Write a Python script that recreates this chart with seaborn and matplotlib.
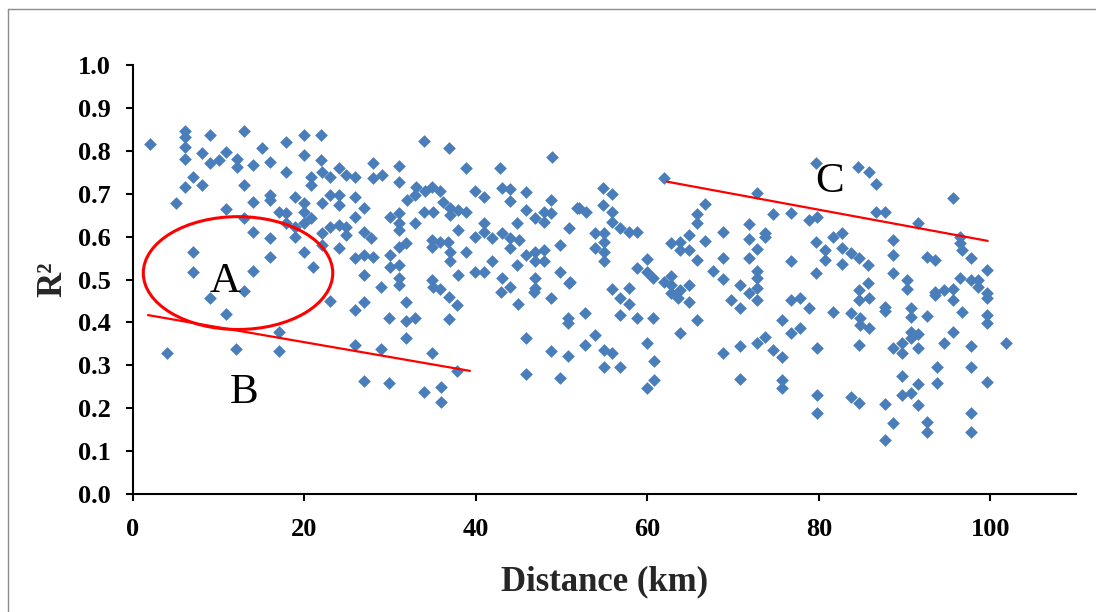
import matplotlib
matplotlib.use("Agg")
import matplotlib.pyplot as plt
from matplotlib.patches import Ellipse
import seaborn as sns
import pandas as pd

# Distance (km) and R^2 values
distance_km = [
    2.0, 6.1, 6.1, 6.1, 6.1, 9.0, 8.0, 9.0, 10.0, 10.9, 12.1, 12.1, 13.0, 15.0, 14.0, 16.0, 17.9, 19.9, 21.9, 19.9,
    21.9, 17.9, 7.0, 6.1, 8.0, 13.0, 5.0, 10.9, 14.0, 16.0, 16.0, 17.0, 17.9, 18.9, 19.9, 19.9, 20.8, 20.8, 22.0, 23.0,
    24.0, 24.9, 25.9, 22.0, 23.0, 24.0, 24.0, 25.9, 20.8, 19.9, 17.9, 18.9, 23.0, 24.0, 24.9, 24.9, 22.0, 18.9, 13.0, 14.0,
    16.0, 22.0, 24.0, 25.9, 19.9, 21.0, 16.0, 7.0, 7.0, 14.0, 13.0,
    9.0, 10.9, 17.0, 4.0, 12.0, 17.0, 23.0, 25.9, 25.9,
    33.9, 36.9, 48.9, 38.9, 42.8, 28.0, 31.0, 28.0, 29.0, 31.0, 33.0, 34.1, 34.9, 35.8, 32.0, 32.9, 34.0, 35.0, 36.2, 37.0,
    37.0, 37.9, 38.9, 39.9, 40.9, 43.0, 44.0, 44.0, 45.9, 48.8, 51.8, 45.9, 46.9, 47.9, 48.8, 47.9, 26.9, 25.9, 30.0, 31.0,
    31.0, 31.0, 32.9, 37.9, 40.9, 40.9, 39.9, 41.9, 44.8, 43.0, 44.0, 45.0, 44.0, 50.9, 49.8, 26.9, 27.8, 26.9, 28.0, 30.0,
    31.0, 31.9, 31.0, 30.0, 34.9, 35.8, 36.8, 34.9, 37.0, 37.0, 38.9, 41.9, 44.8, 45.9, 46.9, 47.9, 46.9, 47.9, 49.8, 50.9,
    26.9, 28.9, 31.0, 31.0, 34.9, 35.8, 37.9, 39.9, 40.9, 43.0, 44.0, 46.9, 46.9,
    35.0, 26.9, 31.9, 36.9, 37.8, 29.9, 31.9, 32.9, 36.9, 31.9, 28.9, 34.9, 37.8, 26.9, 29.9, 33.9, 35.9, 35.9, 42.9, 44.9,
    46.8, 48.8, 50.8, 50.8, 45.9, 48.8, 50.8, 45.9, 49.8,
    61.9, 72.8, 54.8, 55.9, 66.7, 65.8, 65.8, 74.7, 76.7, 52.0, 52.9, 54.8, 55.9, 55.9, 53.9, 54.9, 56.8, 57.8, 58.8, 54.9,
    53.9, 54.9, 54.9, 62.8, 63.8, 64.8, 63.8, 64.8, 66.7, 68.8, 71.8, 71.8, 73.7, 73.7, 72.8, 71.8, 76.7, 68.8, 65.8, 60.0,
    58.8, 60.0, 60.7, 61.9, 62.8, 62.8, 63.8, 64.8, 67.7, 68.8, 70.8, 72.8, 72.8, 72.8, 55.9, 57.8, 51.0,
    56.8, 57.8, 56.8, 52.7, 58.8, 60.7, 62.7, 63.6, 64.8, 65.8, 63.8, 53.9, 52.7, 54.9, 55.9, 54.9, 56.8, 59.9, 60.8, 60.8,
    59.9, 69.8, 70.8, 71.8, 72.8, 75.7, 76.7, 76.7, 73.7, 72.8, 70.8, 68.8, 74.7, 75.7, 70.8, 75.7, 75.7,
    79.7, 84.6, 85.8, 86.7, 95.6, 86.7, 87.7, 91.6, 78.8, 79.8, 96.5, 96.5, 96.7, 97.7, 99.6, 79.7, 81.7, 82.7, 80.7, 80.7,
    82.7, 83.7, 84.7, 85.7, 82.7, 88.7, 88.7, 88.7, 92.6, 93.6, 79.7, 85.7, 84.7, 90.3, 90.3, 96.5, 97.7, 98.6, 98.6, 93.6,
    94.6, 95.7, 99.6,
    77.8, 78.8, 81.7, 83.7, 84.7, 85.8, 84.8, 84.8, 85.8, 87.7, 87.7, 90.7, 90.7, 92.6, 93.6, 95.7, 96.7, 99.6, 99.6, 99.6,
    77.8, 79.8, 84.7, 88.7, 89.7, 89.7, 90.7, 91.6, 90.7, 91.6, 94.6, 95.7, 97.7, 101.8, 93.8, 93.8, 97.7, 99.6, 89.7, 91.6,
    79.8, 79.8, 83.7, 84.7, 87.7, 89.7, 90.7, 91.6, 88.7, 92.6, 92.6, 97.7, 97.7, 87.7,
]
r_squared = [
    0.817, 0.845, 0.833, 0.810, 0.780, 0.837, 0.794, 0.771, 0.779, 0.798, 0.780, 0.763, 0.845, 0.806, 0.767, 0.775, 0.821, 0.837, 0.837, 0.790,
    0.779, 0.751, 0.740, 0.716, 0.720, 0.720, 0.678, 0.664, 0.681, 0.697, 0.686, 0.658, 0.654, 0.693, 0.678, 0.658, 0.740, 0.720, 0.751, 0.740,
    0.759, 0.744, 0.740, 0.678, 0.697, 0.697, 0.674, 0.693, 0.643, 0.631, 0.631, 0.623, 0.623, 0.627, 0.623, 0.604, 0.608, 0.600, 0.643, 0.611,
    0.596, 0.580, 0.573, 0.549, 0.565, 0.530, 0.553, 0.565, 0.518, 0.520, 0.474,
    0.456, 0.419, 0.378, 0.328, 0.337, 0.334, 0.450, 0.429, 0.347,
    0.823, 0.806, 0.786, 0.761, 0.761, 0.772, 0.765, 0.737, 0.744, 0.728, 0.716, 0.706, 0.716, 0.706, 0.685, 0.697, 0.658, 0.658, 0.681, 0.666,
    0.650, 0.662, 0.658, 0.706, 0.693, 0.713, 0.711, 0.683, 0.705, 0.685, 0.666, 0.662, 0.643, 0.658, 0.654, 0.635, 0.666, 0.646, 0.646, 0.654,
    0.631, 0.615, 0.631, 0.615, 0.631, 0.611, 0.600, 0.596, 0.631, 0.608, 0.596, 0.592, 0.573, 0.619, 0.580, 0.611, 0.596, 0.557, 0.553, 0.557,
    0.576, 0.584, 0.534, 0.530, 0.592, 0.588, 0.588, 0.576, 0.565, 0.542, 0.565, 0.542, 0.534, 0.557, 0.565, 0.569, 0.542, 0.542, 0.518, 0.491,
    0.510, 0.483, 0.503, 0.487, 0.499, 0.479, 0.510, 0.518, 0.518, 0.503, 0.483, 0.503, 0.480,
    0.482, 0.448, 0.448, 0.460, 0.440, 0.411, 0.403, 0.410, 0.407, 0.364, 0.338, 0.329, 0.287, 0.263, 0.259, 0.237, 0.250, 0.215, 0.472, 0.443,
    0.472, 0.456, 0.410, 0.398, 0.363, 0.334, 0.322, 0.279, 0.271,
    0.737, 0.701, 0.714, 0.699, 0.675, 0.652, 0.631, 0.652, 0.654, 0.666, 0.658, 0.674, 0.658, 0.635, 0.608, 0.608, 0.619, 0.611, 0.611, 0.588,
    0.573, 0.565, 0.543, 0.584, 0.588, 0.604, 0.569, 0.569, 0.590, 0.611, 0.629, 0.594, 0.608, 0.598, 0.571, 0.551, 0.543, 0.551, 0.545, 0.548,
    0.526, 0.518, 0.504, 0.495, 0.507, 0.487, 0.476, 0.487, 0.520, 0.501, 0.487, 0.520, 0.503, 0.480, 0.479, 0.481, 0.495,
    0.456, 0.444, 0.417, 0.421, 0.410, 0.410, 0.468, 0.456, 0.448, 0.406, 0.376, 0.371, 0.347, 0.336, 0.328, 0.295, 0.295, 0.351, 0.310, 0.266,
    0.246, 0.452, 0.433, 0.468, 0.452, 0.406, 0.452, 0.375, 0.367, 0.351, 0.345, 0.329, 0.336, 0.320, 0.267, 0.266, 0.248,
    0.772, 0.763, 0.751, 0.722, 0.691, 0.658, 0.657, 0.631, 0.639, 0.646, 0.600, 0.584, 0.569, 0.549, 0.522, 0.588, 0.600, 0.608, 0.569, 0.545,
    0.573, 0.561, 0.549, 0.534, 0.535, 0.592, 0.557, 0.514, 0.553, 0.545, 0.514, 0.491, 0.476, 0.499, 0.479, 0.503, 0.499, 0.499, 0.483, 0.472,
    0.476, 0.479, 0.468,
    0.456, 0.434, 0.425, 0.421, 0.452, 0.458, 0.410, 0.394, 0.386, 0.437, 0.427, 0.433, 0.413, 0.416, 0.464, 0.452, 0.425, 0.456, 0.417, 0.398,
    0.386, 0.340, 0.347, 0.340, 0.328, 0.351, 0.378, 0.372, 0.363, 0.340, 0.351, 0.378, 0.345, 0.351, 0.295, 0.258, 0.297, 0.260, 0.276, 0.256,
    0.231, 0.188, 0.227, 0.211, 0.209, 0.231, 0.235, 0.207, 0.165, 0.167, 0.145, 0.188, 0.144, 0.126,
]

# annotation geometry (data coordinates)
line_b_x = [1.75, 39.3]
line_b_y = [0.417, 0.287]
line_c_x = [62.3, 99.7]
line_c_y = [0.728, 0.590]
ellipse_center = (12.25, 0.515)
ellipse_size = (22.1, 0.263)
labels = ["A", "B", "C"]
label_x = [10.8, 12.95, 81.2]
label_y = [0.471, 0.212, 0.705]

x_ticks = [0, 20, 40, 60, 80, 100]
y_ticks = [0.0, 0.1, 0.2, 0.3, 0.4, 0.5, 0.6, 0.7, 0.8, 0.9, 1.0]

df = pd.DataFrame({"Distance (km)": distance_km, "R2": r_squared})

sns.set_style("ticks")
plt.rcParams["font.family"] = ["Liberation Serif", "DejaVu Serif"]

fig = plt.figure(figsize=(10.96, 6.12), dpi=100)
ax = fig.add_axes([0.12135, 0.19281, 0.8604, 0.70098])

sns.scatterplot(data=df, x="Distance (km)", y="R2", marker="D", s=42,
                color="#4a7ebb", linewidth=0, ax=ax, zorder=3)

ax.plot(line_b_x, line_b_y, color="#ff0000", lw=1.6, zorder=4)
ax.plot(line_c_x, line_c_y, color="#ff0000", lw=1.6, zorder=4)
ax.add_patch(Ellipse(ellipse_center, ellipse_size[0], ellipse_size[1],
                     fill=False, edgecolor="#ff0000", lw=2.2, zorder=4))
for t, lx, ly in zip(labels, label_x, label_y):
    ax.text(lx, ly, t, fontsize=31, ha="center", va="baseline",
            color="black", zorder=5)

ax.set_xlim(0, 110)
ax.set_ylim(0, 1.0)
ax.set_xticks(x_ticks)
ax.set_yticks(y_ticks)
ax.set_xticklabels([str(v) for v in x_ticks])
ax.set_yticklabels([f"{v:.1f}" for v in y_ticks])

for side in ["top", "right"]:
    ax.spines[side].set_visible(False)
for side in ["left", "bottom"]:
    ax.spines[side].set_linewidth(1.5)
    ax.spines[side].set_color("black")

ax.tick_params(axis="both", direction="out", length=5, width=1.5,
               colors="black", labelsize=19)
ax.tick_params(axis="x", pad=12)
ax.tick_params(axis="y", pad=11)
for lab in ax.get_xticklabels() + ax.get_yticklabels():
    lab.set_fontweight("bold")

ax.set_xlabel("Distance (km)", fontsize=25, fontweight="bold", labelpad=18)
ax.set_ylabel("R²", fontsize=25, fontweight="bold", labelpad=6)

# outer frame of the figure image
fig.add_artist(plt.Line2D([8 / 1096, 1.0], [1 - 9 / 612, 1 - 9 / 612],
                          transform=fig.transFigure, color="#8c8c8c", lw=1))
fig.add_artist(plt.Line2D([8 / 1096, 8 / 1096], [0, 1 - 9 / 612],
                          transform=fig.transFigure, color="#8c8c8c", lw=1))

fig.savefig("out.png", dpi=100, facecolor="white")
